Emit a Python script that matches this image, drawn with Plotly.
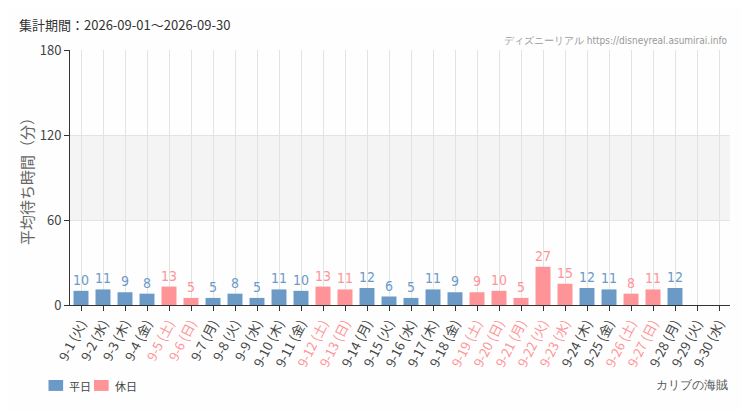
import plotly.graph_objects as go

dates = ["9-1", "9-2", "9-3", "9-4", "9-5", "9-6", "9-7", "9-8", "9-9", "9-10",
         "9-11", "9-12", "9-13", "9-14", "9-15", "9-16", "9-17", "9-18", "9-19", "9-20",
         "9-21", "9-22", "9-23", "9-24", "9-25", "9-26", "9-27", "9-28", "9-29", "9-30"]
weekdays = ["火", "水", "木", "金", "土", "日", "月", "火", "水", "木",
            "金", "土", "日", "月", "火", "水", "木", "金", "土", "日",
            "月", "火", "水", "木", "金", "土", "日", "月", "火", "水"]
holiday = [0, 0, 0, 0, 1, 1, 0, 0, 0, 0,
           0, 1, 1, 0, 0, 0, 0, 0, 1, 1,
           1, 1, 1, 0, 0, 1, 1, 0, 0, 0]
values = [10, 11, 9, 8, 13, 5, 5, 8, 5, 11,
          10, 13, 11, 12, 6, 5, 11, 9, 9, 10,
          5, 27, 15, 12, 11, 8, 11, 12, None, None]
y_ticks = [0, 60, 120, 180]
series_names = ["平日", "休日"]

BLUE = "#6b9ac7"
PINK = "#ff9498"

cats = [f"{d} ({w})" for d, w in zip(dates, weekdays)]
ticktext = [f'<span style="color:{PINK if h else "#444444"}">{c}</span>' for c, h in zip(cats, holiday)]

wd_vals = [v if (not h and v is not None) else None for v, h in zip(values, holiday)]
hd_vals = [v if (h and v is not None) else None for v, h in zip(values, holiday)]

label_font = "DejaVu Sans Condensed, Liberation Sans Narrow, sans-serif"

fig = go.Figure()
for name, vals, col in [(series_names[0], wd_vals, BLUE), (series_names[1], hd_vals, PINK)]:
    fig.add_trace(go.Bar(
        x=cats, y=vals, name=name, marker=dict(color=col, line_width=0),
        text=[str(v) if v is not None else "" for v in vals], textposition="outside",
        constraintext="none",
        textfont=dict(color=col, size=14, family=label_font), cliponaxis=False, width=0.68,
    ))

fig.add_hrect(y0=60, y1=120, fillcolor="#f4f4f4", line_width=0, layer="below")

fig.update_layout(
    width=742, height=402,
    margin=dict(l=62, r=20, t=42, b=105, autoexpand=False),
    paper_bgcolor="#fdfefd", plot_bgcolor="#fdfefd",
    barmode="overlay",
    font=dict(family="Noto Sans CJK JP, sans-serif", color="#444444"),
    showlegend=False,
    xaxis=dict(
        type="category", categoryorder="array", categoryarray=cats,
        tickvals=cats, ticktext=ticktext, tickangle=-63,
        tickfont=dict(size=13), ticks="outside", ticklen=5, tickcolor="#333333",
        showgrid=True, gridcolor="#e3e3e3", gridwidth=1,
        showline=True, linecolor="#333333", linewidth=1,
        range=[-0.5, 29.5], fixedrange=True, automargin=False,
    ),
    yaxis=dict(
        range=[0, 180], tickvals=y_ticks, ticks="outside", ticklen=5, tickcolor="#333333",
        tickfont=dict(size=13, color="#444444"),
        showgrid=True, gridcolor="#e3e3e3", gridwidth=1,
        showline=True, linecolor="#333333", linewidth=1, zeroline=False,
        title=dict(text="平均待ち時間（分）", font=dict(size=15, color="#666666"), standoff=2),
        automargin=False,
    ),
)

# legend drawn as swatches + labels below the axis
legend_items = [(series_names[0], BLUE, -0.0326, -0.0045), (series_names[1], PINK, 0.0364, 0.065)]
for name, col, sx, tx in legend_items:
    fig.add_shape(type="rect", xref="paper", yref="paper",
                  x0=sx, x1=sx + 0.0222, y0=-0.337, y1=-0.294,
                  fillcolor=col, line_width=0)
    fig.add_annotation(text=name, xref="paper", yref="paper", x=tx, y=-0.316,
                       xanchor="left", yanchor="middle", showarrow=False,
                       font=dict(size=11, color="#444444"))

fig.add_annotation(text="集計期間：2026-09-01～2026-09-30", xref="paper", yref="paper",
                   x=-0.081, y=1.0, xanchor="left", yanchor="bottom", yshift=14, showarrow=False,
                   font=dict(size=13, color="#333333"))
fig.add_annotation(text="ディズニーリアル https://disneyreal.asumirai.info", xref="paper", yref="paper",
                   x=1.0, y=1.0, xanchor="right", yanchor="bottom", yshift=2, showarrow=False,
                   font=dict(size=10, color="#999999", family=label_font))
fig.add_annotation(text="カリブの海賊", xref="paper", yref="paper",
                   x=1.0, y=0, xanchor="right", yanchor="middle", yshift=-80, showarrow=False,
                   font=dict(size=12, color="#555555", family=label_font))

fig.write_html("out.html")
